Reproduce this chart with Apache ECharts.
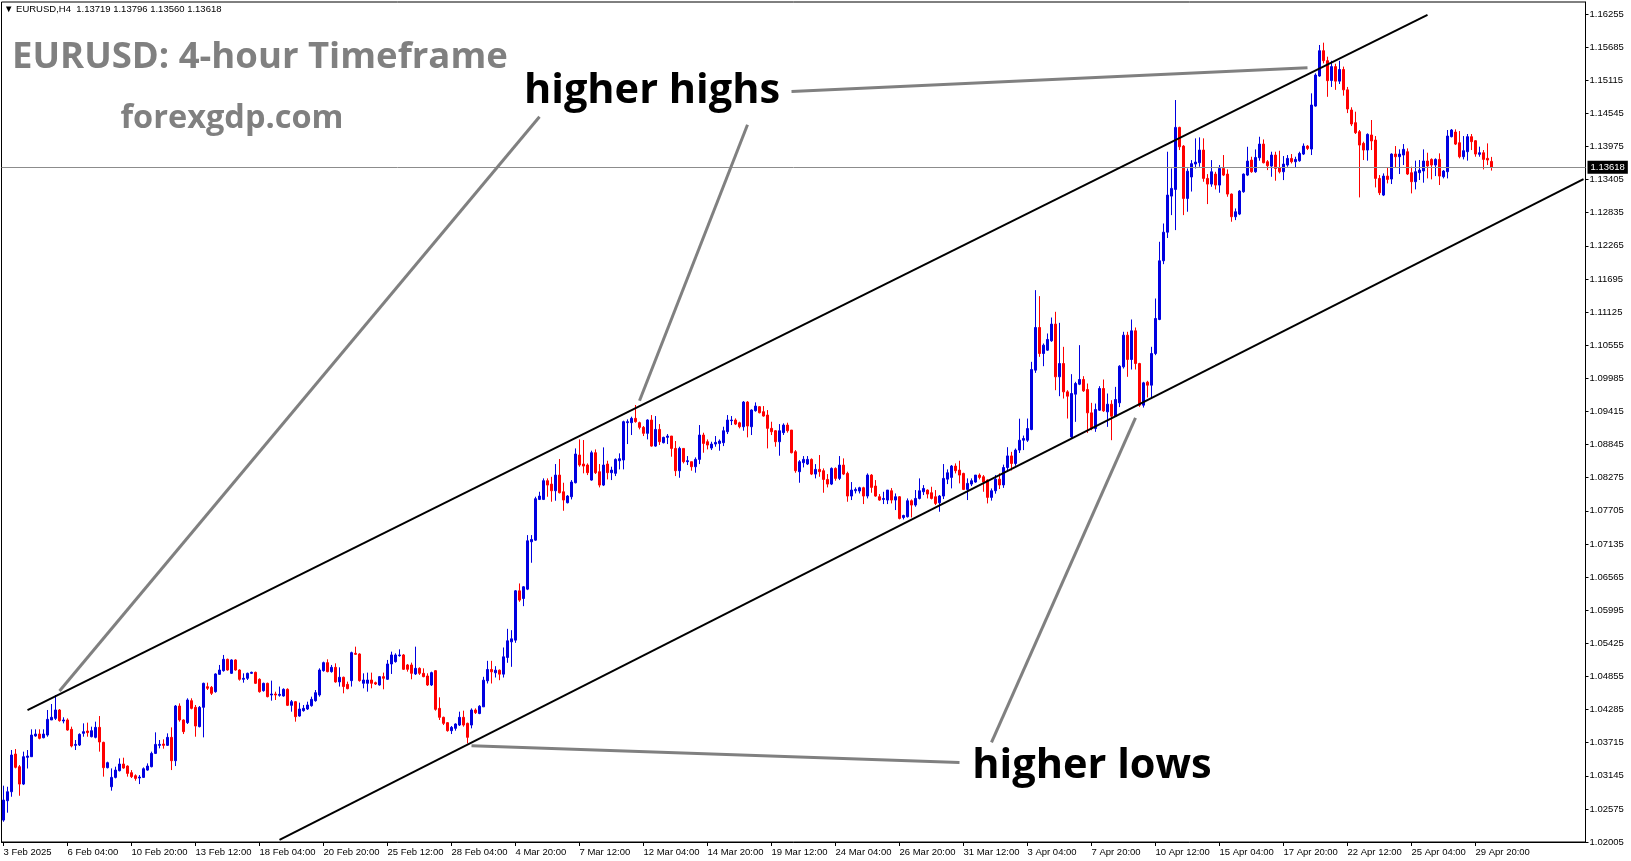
<!DOCTYPE html>
<html><head><meta charset="utf-8">
<script src="https://cdn.jsdelivr.net/npm/echarts@6/dist/echarts.min.js"></script>
<style>html,body{margin:0;padding:0;background:#fff;overflow:hidden}#c{width:1631px;height:861px}</style>
</head><body><div id="c"></div>
<script>
const symbolName = 'EURUSD', timeframe = 'H4';
const chartTitle = 'EURUSD: 4-hour Timeframe';
const siteName = 'forexgdp.com';
const noteHighs = 'higher highs', noteLows = 'higher lows';
const priceTicks = [1.02005,1.02575,1.03145,1.03715,1.04285,1.04855,1.05425,1.05995,1.06565,1.07135,1.07705,1.08275,1.08845,1.09415,1.09985,1.10555,1.11125,1.11695,1.12265,1.12835,1.13405,1.13975,1.14545,1.15115,1.15685,1.16255];
const priceMin = 1.02005, priceMax = 1.16462;
const firstBar = {y:2025, m:1, d:3, h:12};
const slotCount = 396, labelStep = 16;

// [open, close, low, high]
const feb = [
[1.02382,1.02727,1.02354,1.02974],[1.02715,1.0287,1.02509,1.02956],[1.0287,1.03502,1.02784,1.03588],
[1.03519,1.0329,1.03272,1.03605],[1.03301,1.03002,1.02801,1.0333],[1.03002,1.03473,1.02985,1.0356],[1.03462,1.03485,1.0327,1.03588],[1.03473,1.03846,1.03473,1.03944],[1.03829,1.03863,1.03817,1.03944],
[1.03863,1.03789,1.03772,1.03944],[1.038,1.03863,1.03789,1.03944],[1.03846,1.04116,1.03817,1.04277],[1.04105,1.04151,1.04105,1.0438],[1.04133,1.04277,1.04105,1.04535],[1.04277,1.04093,1.04076,1.04294],
[1.04087,1.04105,1.04047,1.04151],[1.04105,1.03932,1.03921,1.04133],[1.03944,1.03657,1.03634,1.0399],[1.03668,1.03685,1.03588,1.0376],[1.03674,1.03858,1.03657,1.03875],[1.03875,1.03904,1.03817,1.04047],
[1.03915,1.03887,1.03817,1.04059],[1.03817,1.03921,1.03806,1.0399],[1.03806,1.03978,1.03789,1.04076],[1.03978,1.03726,1.0356,1.04173],[1.0372,1.03284,1.0313,1.03731],[1.03284,1.0337,1.03272,1.03387],
[1.02956,1.03117,1.02888,1.03272],[1.03117,1.03243,1.031,1.03301],[1.03232,1.03347,1.0322,1.03444],[1.03347,1.03278,1.03266,1.03456],[1.03312,1.03186,1.0313,1.03324],[1.03198,1.0313,1.03106,1.03243],
[1.03146,1.031,1.0306,1.03169],[1.03106,1.03123,1.03002,1.03157],[1.03117,1.03266,1.03106,1.03289],[1.03243,1.03312,1.03232,1.03358],[1.03301,1.0353,1.0329,1.0356],[1.0353,1.03685,1.03519,1.03892],
[1.03668,1.03685,1.03617,1.0376],[1.03691,1.03668,1.03611,1.03772],[1.03668,1.03806,1.03657,1.03875],[1.03806,1.03404,1.03243,1.03978],[1.03404,1.04345,1.03312,1.04363],[1.04345,1.04105,1.04076,1.04391],
[1.04105,1.03904,1.03863,1.04116],[1.04059,1.04449,1.04036,1.04478],[1.04437,1.04305,1.04288,1.04478],[1.04323,1.04001,1.03817,1.04363],[1.0399,1.04323,1.03978,1.04345],[1.04323,1.04736,1.03806,1.04747],
[1.04678,1.0465,1.04621,1.04747],[1.04667,1.04564,1.04535,1.0469],[1.04592,1.04897,1.04575,1.04908],[1.04891,1.04965,1.0488,1.05052],[1.04954,1.05149,1.04937,1.05224],[1.05149,1.04965,1.04954,1.05161],
[1.04908,1.05138,1.04897,1.05149],[1.05138,1.04965,1.04954,1.05149],[1.04965,1.04805,1.04782,1.04977],[1.04805,1.04822,1.04747,1.04908],[1.04822,1.04908,1.04793,1.0492],[1.04908,1.04925,1.04897,1.04937],
[1.04925,1.04736,1.04724,1.04937],[1.04805,1.04592,1.04575,1.04822],[1.0461,1.04736,1.04592,1.04747],[1.04736,1.04506,1.04495,1.04747],[1.04535,1.04552,1.04437,1.04782],[1.04552,1.04535,1.04449,1.04592],
[1.04529,1.04546,1.04506,1.0468],[1.04518,1.04633,1.04506,1.0465],[1.04633,1.04357,1.04345,1.0465],[1.04357,1.0442,1.04248,1.04449],[1.0442,1.04162,1.04076,1.04432],[1.04173,1.04294,1.04162,1.04403],
[1.04265,1.04305,1.04248,1.04363],[1.04294,1.04363,1.04277,1.0442],[1.04351,1.0446,1.04334,1.04506],[1.04437,1.04575,1.0442,1.04621],[1.04535,1.04965,1.04506,1.04994],[1.04954,1.05092,1.04937,1.05109],
[1.05092,1.04937,1.04925,1.05149],[1.04937,1.05011,1.0492,1.05052],[1.05011,1.0476,1.04747,1.0508],[1.0476,1.0484,1.0468,1.05011],[1.0484,1.0468,1.04564,1.04851],[1.04718,1.04644,1.04633,1.04765],
[1.04782,1.05264,1.0468,1.05281],[1.05252,1.05235,1.05224,1.05367],[1.05241,1.04782,1.04765,1.05252],[1.04736,1.04793,1.0465,1.04908],[1.04736,1.04793,1.04592,1.0492],[1.04793,1.04736,1.0465,1.0492],
[1.04747,1.04724,1.04707,1.04765],[1.04707,1.04851,1.04696,1.04862],[1.04851,1.04822,1.04633,1.0492],[1.04805,1.05069,1.04793,1.05138],[1.05069,1.05224,1.04897,1.05281],[1.05109,1.05224,1.05092,1.05252],
[1.05212,1.05224,1.05195,1.05321],[1.05224,1.04977,1.04965,1.05241],[1.05052,1.04977,1.04937,1.05069],[1.05052,1.04908,1.04805,1.05092],[1.04897,1.04994,1.0488,1.05367],[1.04994,1.04908,1.0488,1.05011],
[1.04908,1.04851,1.0484,1.04994],[1.04862,1.04707,1.0469,1.04908],[1.04707,1.0492,1.0469,1.04937],[1.04954,1.04288,1.04265,1.04965],[1.04305,1.04151,1.04105,1.04495],[1.04151,1.04047,1.04018,1.04162],
[1.04059,1.03921,1.03904,1.0407],[1.03921,1.03978,1.03863,1.04001],[1.03961,1.04036,1.03921,1.04047],[1.04018,1.04151,1.04001,1.04248],[1.04151,1.04018,1.0399,1.04265],[1.04047,1.03806,1.03703,1.04059]
];
const mar = [
[1.04018,1.04277,1.03961,1.04305],[1.04277,1.04231,1.04208,1.04305],[1.04216,1.04342,1.04205,1.0436],[1.04331,1.0479,1.04331,1.04848],[1.04779,1.04974,1.04733,1.05123],[1.04974,1.04934,1.04733,1.05123],
[1.04917,1.04962,1.04836,1.05031],[1.04962,1.04894,1.0479,1.04974],[1.04894,1.05192,1.04836,1.05353],[1.05181,1.05468,1.05089,1.05674],[1.0545,1.05502,1.0502,1.05651],[1.05479,1.06328,1.05433,1.0634],
[1.06328,1.06168,1.06139,1.06455],[1.06196,1.06397,1.06064,1.06409],[1.06357,1.07189,1.0634,1.07287],[1.07172,1.07212,1.06811,1.07287],[1.072,1.07913,1.07189,1.07947],[1.07901,1.07959,1.0789,1.08033],
[1.07901,1.08223,1.0789,1.08263],[1.08223,1.08148,1.07947,1.08263],[1.08165,1.0805,1.07861,1.0829],[1.0805,1.0832,1.07878,1.0851],[1.0832,1.08016,1.08005,1.08596],[1.08033,1.0789,1.07706,1.08188],
[1.07844,1.07959,1.07833,1.07976],[1.07947,1.082,1.07901,1.08234],[1.08188,1.08682,1.08177,1.08779],[1.08665,1.08493,1.08464,1.08934],[1.0851,1.08475,1.0835,1.08923],[1.08493,1.08361,1.0832,1.08521],
[1.08234,1.08705,1.08223,1.0874],[1.08705,1.08361,1.08338,1.08762],[1.08378,1.08148,1.08108,1.0851],[1.08148,1.08493,1.08131,1.08797],[1.0851,1.08361,1.08246,1.08567],[1.08361,1.08406,1.08234,1.08464],
[1.0835,1.0859,1.08303,1.08607],[1.08567,1.08602,1.08418,1.08694],[1.08579,1.09239,1.08418,1.09256],[1.09222,1.09239,1.08854,1.09279],[1.09222,1.09296,1.09009,1.09325],[1.09296,1.09239,1.09222,1.09526],
[1.09222,1.09141,1.09107,1.09239],[1.09141,1.09038,1.08992,1.09164],[1.09038,1.09268,1.08934,1.09279],[1.09267,1.08819,1.08808,1.09353],[1.08819,1.09106,1.08808,1.09336],[1.09106,1.08894,1.08837,1.09198],
[1.08877,1.08969,1.08865,1.0898],[1.08969,1.08992,1.08854,1.09026],[1.08992,1.08779,1.08636,1.08992],[1.08779,1.08395,1.08303,1.08906],[1.08395,1.08779,1.08274,1.08808],[1.08779,1.0855,1.08521,1.08779],
[1.0855,1.08567,1.08493,1.08647],[1.0855,1.08464,1.08395,1.0855],[1.08464,1.0859,1.08361,1.08624],[1.0859,1.09009,1.08509,1.09181],[1.09009,1.08865,1.08705,1.09049],[1.08894,1.08837,1.08762,1.08934],
[1.08785,1.08854,1.08751,1.08894],[1.08854,1.08883,1.08808,1.08992],[1.08865,1.08906,1.08739,1.08934],[1.08877,1.09083,1.08819,1.09152],[1.09066,1.09267,1.09026,1.09353],[1.09256,1.09267,1.09181,1.09336],
[1.09267,1.09198,1.09181,1.09296],[1.0922,1.09152,1.09124,1.09238],[1.09152,1.09577,1.09083,1.09594],[1.09577,1.09164,1.08969,1.09594],[1.09152,1.0944,1.09009,1.09451],[1.09428,1.09508,1.09411,1.09571],
[1.09497,1.09393,1.09382,1.09508],[1.09411,1.09336,1.09325,1.09508],[1.09353,1.09124,1.08779,1.09439],[1.09124,1.09066,1.09009,1.09238],[1.09083,1.08894,1.08808,1.09095],[1.08894,1.09083,1.08653,1.09198],
[1.0905,1.09181,1.0901,1.0921],[1.09181,1.09083,1.0905,1.09221],[1.09095,1.08705,1.08693,1.09095],[1.08722,1.08395,1.0836,1.0875],[1.08378,1.0855,1.08188,1.08578],[1.08533,1.0859,1.08452,1.08647],
[1.0851,1.0859,1.08493,1.08647],[1.0859,1.08337,1.0832,1.08607],[1.08337,1.08418,1.08263,1.08509],[1.08418,1.08378,1.08291,1.08665],[1.08395,1.08245,1.08016,1.08435],[1.08245,1.08165,1.08108,1.08337],
[1.08165,1.08435,1.08148,1.08452],[1.08435,1.08263,1.08223,1.08452],[1.08263,1.08492,1.08234,1.08647],[1.08492,1.08337,1.0832,1.08607],[1.08349,1.07959,1.07861,1.08378],[1.07959,1.08062,1.0789,1.082],
[1.0805,1.08073,1.08004,1.08108],[1.08045,1.08102,1.08004,1.08119],[1.08102,1.07959,1.07821,1.08119],[1.07959,1.0832,1.07918,1.08349],[1.0832,1.08108,1.08016,1.08337],[1.08131,1.07959,1.07947,1.08234],
[1.07947,1.0789,1.07878,1.07993],[1.07901,1.07918,1.07821,1.08033],[1.0789,1.08062,1.07821,1.08062],[1.0805,1.0789,1.07832,1.08096],[1.0789,1.07947,1.07718,1.08004],[1.07947,1.07574,1.07557,1.07959],
[1.0759,1.07625,1.07557,1.07637],[1.07603,1.07878,1.0759,1.07918],[1.07878,1.07804,1.0759,1.07901],[1.07804,1.07918,1.07775,1.08062],[1.07918,1.0805,1.07901,1.08263],[1.08033,1.0809,1.07976,1.08148],
[1.08062,1.07993,1.07918,1.08073],[1.08016,1.07918,1.07901,1.08119],[1.07947,1.07832,1.07804,1.08062],[1.07844,1.07959,1.07689,1.07976],[1.07959,1.08263,1.07907,1.0851],[1.0825,1.0836,1.08165,1.08418],
[1.0828,1.08475,1.08091,1.08493],[1.08475,1.08395,1.08349,1.08521],[1.08406,1.0832,1.08177,1.08567],[1.08349,1.08073,1.08062,1.0836],[1.08073,1.08177,1.0789,1.08263],[1.08165,1.08223,1.08131,1.08263]
];
const apr = [
[1.082,1.0832,1.08188,1.0832],[1.0832,1.0828,1.08246,1.08349],[1.08291,1.082,1.08033,1.0832],[1.08234,1.07936,1.07832,1.08246],[1.07936,1.0805,1.0788,1.0809],[1.0805,1.0825,1.08,1.0832],
[1.0825,1.0815,1.0808,1.0835],[1.0815,1.0845,1.081,1.085],[1.0845,1.0865,1.0838,1.088],[1.0865,1.0852,1.084,1.0872],[1.0852,1.0875,1.0848,1.08777],[1.0875,1.0892,1.087,1.0929],
[1.0892,1.0895,1.0875,1.09],[1.0892,1.09121,1.08891,1.09293],[1.09104,1.10137,1.09092,1.10269],[1.10125,1.1086,1.10079,1.11503],[1.1086,1.10412,1.10355,1.114],[1.10412,1.10556,1.10194,1.10585],
[1.1047,1.10654,1.10458,1.10757],[1.10631,1.10918,1.10614,1.11032],[1.10918,1.10011,1.09781,1.1113],[1.10011,1.1024,1.09678,1.1094],[1.1024,1.09752,1.09637,1.10527],[1.09752,1.09678,1.09293,1.09781],
[1.08977,1.09724,1.08949,1.10057],[1.09712,1.09896,1.09236,1.09925],[1.09884,1.09965,1.09868,1.10556],[1.09965,1.0977,1.09752,1.10022],[1.09793,1.09391,1.09046,1.09896],[1.09391,1.09121,1.09092,1.09563],
[1.09121,1.09448,1.09064,1.09551],[1.09437,1.0981,1.09425,1.0985],[1.0981,1.09425,1.09408,1.09965],[1.09408,1.0954,1.0915,1.09724],[1.0954,1.09333,1.0892,1.09609],[1.09333,1.0962,1.09322,1.09838],
[1.09563,1.10194,1.0949,1.10211],[1.10183,1.10728,1.10154,1.10786],[1.10728,1.10309,1.10011,1.10786],[1.10309,1.10803,1.10137,1.10998],[1.10803,1.1024,1.10137,1.1086],[1.1024,1.09523,1.09494,1.10252],
[1.09523,1.09907,1.09482,1.09925],[1.09919,1.09867,1.09655,1.09942],[1.09867,1.10412,1.09637,1.10527],[1.10412,1.11015,1.10384,1.11359],[1.10998,1.12008,1.10986,1.12335],[1.12008,1.125,1.1195,1.1265],
[1.125,1.13139,1.124,1.13885],[1.13121,1.13254,1.12794,1.13598],[1.13236,1.14304,1.12536,1.14775],[1.14304,1.1397,1.13914,1.14315],[1.13982,1.13081,1.12794,1.13999],[1.13081,1.1355,1.12852,1.13598],
[1.1345,1.1368,1.132,1.13741],[1.13673,1.13707,1.13598,1.14115],[1.13696,1.13914,1.13627,1.14132],[1.13914,1.13426,1.13368,1.14115],[1.13426,1.13328,1.12984,1.135],[1.13328,1.1354,1.13282,1.13741],
[1.135,1.13311,1.13236,1.1354],[1.13311,1.13598,1.13179,1.13656],[1.13598,1.13483,1.13466,1.13828],[1.135,1.13156,1.1311,1.13581],[1.13156,1.12766,1.1268,1.13167],[1.12766,1.12852,1.12708,1.12909],
[1.12812,1.13208,1.12794,1.13225],[1.13196,1.135,1.13179,1.13511],[1.13483,1.13724,1.13466,1.1397],[1.13741,1.1354,1.13523,1.13799],[1.1354,1.13787,1.13523,1.13925],[1.13782,1.14017,1.1373,1.14143],
[1.14017,1.13696,1.13684,1.14097],[1.13713,1.13644,1.13569,1.13741],[1.13638,1.13828,1.13454,1.13885],[1.13828,1.13598,1.13386,1.13885],[1.1361,1.1354,1.13512,1.13902],[1.1354,1.13673,1.13397,1.13811],
[1.13656,1.1377,1.13627,1.13828],[1.1377,1.13713,1.13684,1.13845],[1.13713,1.13753,1.13615,1.13799],[1.1373,1.13856,1.13713,1.13885],[1.13845,1.13982,1.13828,1.14028],[1.13982,1.13942,1.13914,1.13999],
[1.13931,1.14689,1.13828,1.1489],[1.14671,1.15205,1.1466,1.15234],[1.15188,1.15624,1.15176,1.15722],[1.15624,1.15452,1.15406,1.15762],[1.15452,1.15108,1.1483,1.15521],[1.1511,1.1535,1.15,1.1545],
[1.1535,1.151,1.1495,1.154],[1.151,1.153,1.1505,1.1545],[1.153,1.1495,1.1485,1.1535],[1.1495,1.1462,1.1455,1.15],[1.14603,1.14362,1.14327,1.1465],[1.14385,1.14213,1.1419,1.14574],
[1.1423,1.14,1.13099,1.14259],[1.14029,1.13914,1.13742,1.14058],[1.13914,1.14184,1.13731,1.14201],[1.14173,1.1407,1.13914,1.14431],[1.14086,1.13426,1.13271,1.14155],[1.13426,1.13179,1.13139,1.13484],
[1.13139,1.13466,1.13122,1.13512],[1.13466,1.13409,1.1334,1.13616],[1.13415,1.13845,1.13329,1.13857],[1.13845,1.13799,1.13616,1.13983],[1.13799,1.13845,1.13501,1.13926],[1.13828,1.13926,1.13656,1.14017],
[1.13885,1.13501,1.13484,1.13943],[1.13524,1.13369,1.13168,1.13627],[1.13369,1.13541,1.13237,1.13731],[1.13524,1.1357,1.13398,1.13742],[1.13553,1.13725,1.13352,1.13926],[1.13725,1.13639,1.13426,1.13868],
[1.13753,1.13656,1.13409,1.13771],[1.13656,1.13753,1.13466,1.13771],[1.13753,1.13466,1.13312,1.13857],[1.13455,1.13553,1.13426,1.1357],[1.13541,1.14155,1.13426,1.14259],[1.14144,1.14259,1.14132,1.14276],
[1.14224,1.14017,1.14,1.1427],[1.1404,1.13799,1.13771,1.14241],[1.13799,1.13903,1.13753,1.14155],[1.13885,1.14144,1.13731,1.1419],[1.14144,1.14058,1.13914,1.1419],[1.14075,1.13845,1.13799,1.14086],
[1.1384,1.13868,1.13799,1.13972],[1.13868,1.13753,1.13581,1.13914],[1.13771,1.13742,1.13656,1.14029],[1.13719,1.13618,1.1356,1.13796]
];

// trend lines: [barIndex, price]
const channelUpper = [[6,1.04275],[356,1.16241]];
const channelLower = [[69,1.02041],[395,1.13415]];
const pointerLines = [
  [[14,1.04604],[134,1.14488]],
  [[159,1.09600],[186,1.14350]],
  [[197,1.14921],[326,1.15331]],
  [[117,1.03661],[239,1.03373]],
  [[247,1.03719],[283,1.09306]]
];

const candles = feb.concat(mar, apr);
const months = ['Jan','Feb','Mar','Apr','May','Jun','Jul','Aug','Sep','Oct','Nov','Dec'];
const cats = [];
{
  let dt = new Date(Date.UTC(firstBar.y, firstBar.m, firstBar.d, firstBar.h));
  for (let i = 0; i < slotCount; i++) {
    cats.push({y: dt.getUTCFullYear(), mo: dt.getUTCMonth(), d: dt.getUTCDate(), h: dt.getUTCHours()});
    dt = new Date(dt.getTime() + 4 * 3600e3);
    while (dt.getUTCDay() === 0 || dt.getUTCDay() === 6) dt = new Date(dt.getTime() + 24 * 3600e3);
  }
}
const catLabels = cats.map((c, i) => i === 0
  ? c.d + ' ' + months[c.mo] + ' ' + c.y
  : c.d + ' ' + months[c.mo] + ' ' + String(c.h).padStart(2, '0') + ':00');
const showLabel = (i) => i === 0 || (i % labelStep === 0 && i < candles.length);

const last = candles[candles.length - 1];
const header = '\u25BC ' + symbolName + ',' + timeframe + '  ' + [last[0], last[3], last[2], last[1]].map(v => v.toFixed(5)).join(' ');

const chart = echarts.init(document.getElementById('c'), null, {renderer: 'canvas'});
const axisFont = {fontFamily: 'Liberation Sans', fontSize: 9.5, color: '#000'};
const lineSeries = (data, color, width) => ({
  type: 'line', data: data, symbol: 'none', silent: true, z: 5,
  lineStyle: {color: color, width: width}, animation: false, clip: true
});

chart.setOption({
  animation: false,
  backgroundColor: '#fff',
  grid: {left: 1.5, right: 45.5, top: 2, bottom: 19, show: true, borderColor: '#000', borderWidth: 1, backgroundColor: '#fff'},
  xAxis: {
    type: 'category', data: catLabels, boundaryGap: true,
    axisLine: {show: true, lineStyle: {color: '#000', width: 1}},
    axisTick: {show: true, alignWithLabel: true, interval: (i) => showLabel(i), length: 4, lineStyle: {color: '#000'}},
    axisLabel: Object.assign({interval: (i) => showLabel(i), align: 'left', margin: 5}, axisFont),
    splitLine: {show: false}
  },
  yAxis: {
    type: 'value', position: 'right', min: priceMin, max: priceMax, scale: true,
    axisLine: {show: true, lineStyle: {color: '#000', width: 1}},
    axisTick: {show: true, inside: false, length: 3, customValues: priceTicks, lineStyle: {color: '#000'}},
    axisLabel: Object.assign({customValues: priceTicks, margin: 4, formatter: (v) => v.toFixed(5)}, axisFont),
    splitLine: {show: false}
  },
  graphic: [
    {type: 'text', left: 4, top: 4, z: 10, style: {text: header, font: '9.5px "Liberation Sans"', fill: '#000'}},
    {type: 'text', x: 12, y: 58, z: 10, style: {text: chartTitle, font: 'bold 36.5px "Open Sans"', fill: '#808080', textVerticalAlign: 'middle'}},
    {type: 'text', x: 232, y: 119, z: 10, style: {text: siteName, font: 'bold 32.5px "Open Sans"', fill: '#808080', textAlign: 'center', textVerticalAlign: 'middle'}},
    {type: 'text', x: 652, y: 91, z: 10, style: {text: noteHighs, font: 'bold 41.5px "Open Sans"', fill: '#000', textAlign: 'center', textVerticalAlign: 'middle'}},
    {type: 'text', x: 1092, y: 766, z: 10, style: {text: noteLows, font: 'bold 41.5px "Open Sans"', fill: '#000', textAlign: 'center', textVerticalAlign: 'middle'}}
  ],
  series: [
    {
      type: 'candlestick', data: candles, barWidth: 2, z: 3,
      itemStyle: {color: '#0000E0', color0: '#FF0000', borderColor: '#0000E0', borderColor0: '#FF0000', borderWidth: 1},
      markLine: {
        silent: true, symbol: ['none', 'none'], animation: false, precision: 5,
        lineStyle: {color: '#8c8c8c', width: 1, type: 'solid'},
        label: {show: true, position: 'end', distance: 2, formatter: (p) => Number(p.value).toFixed(5),
                backgroundColor: '#000', color: '#fff', padding: [2, 3, 1, 3], fontFamily: 'Liberation Sans', fontSize: 9.5},
        data: [{yAxis: last[1]}]
      }
    },
    lineSeries(channelUpper, '#000', 2),
    lineSeries(channelLower, '#000', 2),
    ...pointerLines.map(d => lineSeries(d, '#808080', 3))
  ]
});
</script>
</body></html>
